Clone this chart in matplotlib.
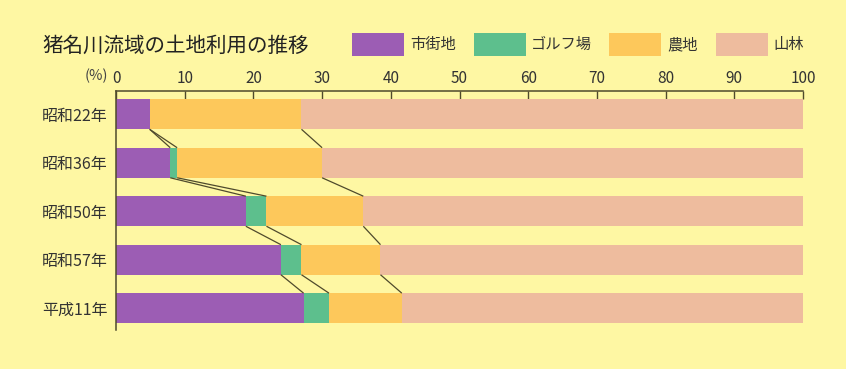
import matplotlib
matplotlib.use("Agg")
import matplotlib.pyplot as plt
from matplotlib.patches import Rectangle
import numpy as np

plt.rcParams['font.family'] = ['Noto Sans CJK JP', 'DejaVu Sans']

title = "猪名川流域の土地利用の推移"
years = ["昭和22年", "昭和36年", "昭和50年", "昭和57年", "平成11年"]
series_names = ["市街地", "ゴルフ場", "農地", "山林"]
urban = [4.9, 7.9, 18.9, 24.0, 27.3]
golf = [0.0, 1.0, 3.0, 3.0, 3.7]
farm = [22.1, 21.1, 14.1, 11.5, 10.6]
forest = [73.0, 70.0, 64.0, 61.5, 58.4]
colors = ["#9C5DB4", "#5DBF8D", "#FDC85B", "#EEBC9E"]
bg = "#FEF7A3"
line_c = "#4F4A2C"
xticks = [0, 10, 20, 30, 40, 50, 60, 70, 80, 90, 100]

W, H = 846, 369
fig = plt.figure(figsize=(W / 100, H / 100), dpi=100, facecolor=bg)
ax = fig.add_axes([116 / W, 1 - 330 / H, (803 - 116) / W, (330 - 91) / H])
ax.set_facecolor(bg)

data = np.array([urban, golf, farm, forest])
y = np.arange(len(years))
bh = 0.62
left = np.zeros(len(years))
for i in range(4):
    ax.barh(y, data[i], left=left, height=bh, color=colors[i], edgecolor='none', zorder=2)
    left = left + data[i]

cum = np.cumsum(data, axis=0)[:3]
for b in range(3):
    for r in range(len(years) - 1):
        ax.plot([cum[b, r], cum[b, r + 1]], [r + bh / 2, r + 1 - bh / 2],
                color=line_c, lw=0.9, zorder=3, solid_capstyle='butt')

ax.set_xlim(0, 100)
ax.set_ylim(4.45, -0.48)
ax.xaxis.tick_top()
ax.set_xticks(xticks)
ax.set_xticklabels([str(t) for t in xticks])
ax.tick_params(axis='x', direction='in', length=6, width=1, color=line_c, pad=3,
               labelsize=11, labelcolor='#333333')
ax.set_yticks(y)
ax.set_yticklabels(years)
ax.tick_params(axis='y', length=0, pad=6, labelsize=11.5, labelcolor='#333333')
for s in ['right', 'bottom']:
    ax.spines[s].set_visible(False)
for s in ['top', 'left']:
    ax.spines[s].set_color(line_c)
    ax.spines[s].set_linewidth(1.1)

fig.text(108 / W, 1 - 76 / H, "(%)", ha='right', va='center', fontsize=10.5, color='#444444')

fig.text(42 / W, 1 - 46 / H, title, ha='left', va='center', fontsize=14.8, color='#222222')

patch_x = [352, 474, 609, 716]
text_x = [410, 531, 667, 773]
for i in range(4):
    fig.patches.append(Rectangle((patch_x[i] / W, 1 - 56 / H), 52 / W, 23 / H,
                                 transform=fig.transFigure, facecolor=colors[i],
                                 edgecolor='none'))
    fig.text(text_x[i] / W, 1 - 44.5 / H, series_names[i], ha='left', va='center',
             fontsize=11, color='#333333')

fig.savefig("out.png", dpi=100, facecolor=bg)
